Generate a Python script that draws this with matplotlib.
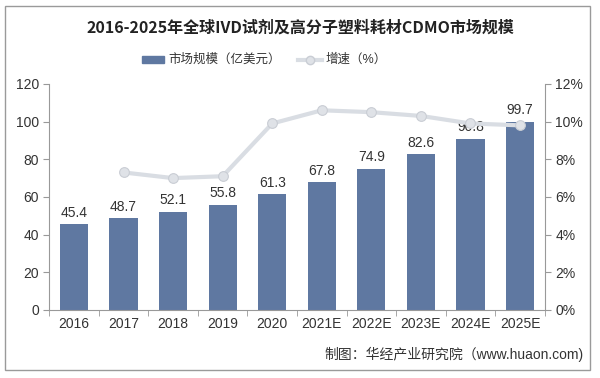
import matplotlib.pyplot as plt
from matplotlib.patches import Rectangle
from matplotlib.ticker import FuncFormatter, MultipleLocator

plt.rcParams['font.family'] = ['Liberation Sans', 'Noto Sans CJK SC', 'DejaVu Sans']

# data
years = ["2016", "2017", "2018", "2019", "2020", "2021E", "2022E", "2023E", "2024E", "2025E"]
market = [45.4, 48.7, 52.1, 55.8, 61.3, 67.8, 74.9, 82.6, 90.8, 99.7]
growth_years = years[1:]
growth = [7.3, 7.0, 7.1, 9.9, 10.6, 10.5, 10.3, 9.9, 9.8]

BAR = "#5f78a1"
LINE = "#d9dde3"
TXT = "#333333"
AX = "#999999"

fig = plt.figure(figsize=(6, 3.78), dpi=100)
fig.patches.append(Rectangle((0.008, 0.02), 0.975, 0.965, transform=fig.transFigure,
                             fill=False, edgecolor="#9a9a9a", linewidth=1.0))

ax = fig.add_axes([0.082, 0.18, 0.826, 0.598])
x = list(range(len(years)))
ax.bar(x, market, width=0.57, color=BAR, zorder=2)
for xi, v in zip(x, market):
    ax.text(xi, v + 2.5, f"{v}", ha="center", va="bottom", fontsize=10, color=TXT, zorder=5)

ax.set_ylim(0, 120)
ax.set_xlim(-0.5, len(years) - 0.5)
ax.yaxis.set_major_locator(MultipleLocator(20))
ax.set_xticks(x)
ax.set_xticklabels(years)
ax.set_xticks([i + 0.5 for i in range(-1, len(years))], minor=True)
ax.tick_params(axis="x", which="major", length=0, labelsize=10, colors=TXT, pad=5)
ax.tick_params(axis="x", which="minor", length=4, color=AX, direction="out")
ax.tick_params(axis="y", length=4, color=AX, labelsize=10, labelcolor=TXT)
for s in ("top", "right"):
    ax.spines[s].set_visible(False)
for s in ("left", "bottom"):
    ax.spines[s].set_color(AX)

ax2 = ax.twinx()
gx = [years.index(y) for y in growth_years]
ax2.plot(gx, growth, color=LINE, linewidth=3, marker="o", markersize=7,
         markerfacecolor="#dfe2e7", markeredgecolor="#c9cdd4", markeredgewidth=0.8, zorder=3)
ax2.set_ylim(0, 12)
ax2.yaxis.set_major_locator(MultipleLocator(2))
ax2.yaxis.set_major_formatter(FuncFormatter(lambda v, p: f"{v:.0f}%"))
ax2.tick_params(axis="y", length=4, color=AX, labelsize=10, labelcolor=TXT)
for s in ("top", "left", "bottom"):
    ax2.spines[s].set_visible(False)
ax2.spines["right"].set_color(AX)

fig.text(0.5, 0.928, "2016-2025年全球IVD试剂及高分子塑料耗材CDMO市场规模", ha="center", va="center",
         fontsize=11.5, fontweight="bold", color="#222222",
         family=['Noto Sans CJK SC', 'DejaVu Sans'])

# legend
ly = 0.842
fig.patches.append(Rectangle((0.237, ly - 0.009), 0.036, 0.018, transform=fig.transFigure,
                             color=BAR))
fig.text(0.28, ly, "市场规模（亿美元）", ha="left", va="center", fontsize=9, color=TXT)
fig.lines.append(plt.Line2D([0.497, 0.537], [ly, ly], transform=fig.transFigure,
                            color=LINE, linewidth=3))
fig.lines.append(plt.Line2D([0.517], [ly], transform=fig.transFigure, marker="o",
                            markersize=6, color="#dfe2e7", markeredgecolor="#c9cdd4"))
fig.text(0.543, ly, "增速（%）", ha="left", va="center", fontsize=9, color=TXT)

fig.text(0.972, 0.062, "制图：华经产业研究院（www.huaon.com)", ha="right", va="center",
         fontsize=10, color=TXT)

fig.savefig("out.png", dpi=100)
